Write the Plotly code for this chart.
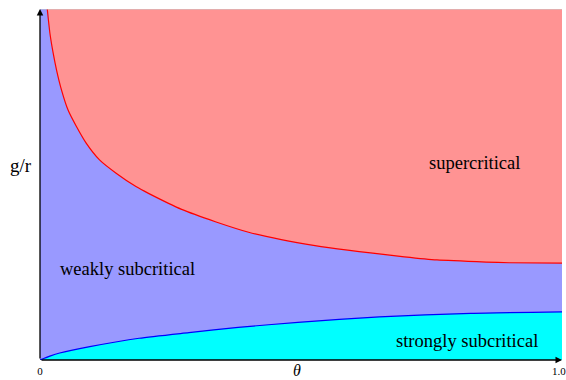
import plotly.graph_objects as go

# boundary between supercritical and weakly subcritical (red curve)
red_theta = [0.014, 0.0191, 0.0254, 0.0319, 0.0415, 0.0541, 0.0702, 0.0893, 0.1147, 0.1467,
             0.1849, 0.210, 0.273, 0.338, 0.402, 0.465, 0.530, 0.593, 0.637, 0.702,
             0.765, 0.860, 0.904, 1.006]
red_g = [1.0, 0.931, 0.874, 0.826, 0.769, 0.712, 0.665, 0.617, 0.570, 0.532,
         0.494, 0.474, 0.429, 0.394, 0.364, 0.343, 0.326, 0.313, 0.305, 0.294,
         0.285, 0.279, 0.277, 0.276]

# boundary between weakly and strongly subcritical (blue curve)
blue_theta = [0.0, 0.019, 0.038, 0.096, 0.191, 0.287, 0.382, 0.497, 0.654, 0.830, 1.006]
blue_g = [0.0, 0.011, 0.020, 0.038, 0.062, 0.078, 0.093, 0.107, 0.123, 0.133, 0.137]

x_max = 1.006
y_max = 1.0
top_theta = [0.0, x_max]
top_g = [y_max, y_max]

labels = ["supercritical", "weakly subcritical", "strongly subcritical"]
label_theta = [0.837, 0.168, 0.822]
label_g = [0.561, 0.259, 0.054]

tick_vals = [0, 1]
tick_text = ["0", "1.0"]

RED_FILL = "rgb(255,147,147)"
BLUE_FILL = "rgb(153,153,255)"
CYAN_FILL = "rgb(0,255,255)"
FONT = "Liberation Serif, Times New Roman, serif"

fig = go.Figure()
# whole area red
fig.add_trace(go.Scatter(x=top_theta, y=top_g, fill="tozeroy", fillcolor=RED_FILL,
                         mode="none", hoverinfo="skip"))
# below red curve: blue
fig.add_trace(go.Scatter(x=[0.0] + red_theta, y=[y_max] + red_g, fill="tozeroy",
                         fillcolor=BLUE_FILL, mode="none", hoverinfo="skip",
                         line=dict(shape="spline", smoothing=0.6)))
# below blue curve: cyan
fig.add_trace(go.Scatter(x=blue_theta, y=blue_g, fill="tozeroy", fillcolor=CYAN_FILL,
                         mode="none", hoverinfo="skip",
                         line=dict(shape="spline", smoothing=0.6)))
# boundary lines
fig.add_trace(go.Scatter(x=red_theta, y=red_g, mode="lines",
                         line=dict(color="red", width=1.2, shape="spline", smoothing=0.6),
                         hoverinfo="skip"))
fig.add_trace(go.Scatter(x=blue_theta, y=blue_g, mode="lines",
                         line=dict(color="blue", width=1.2, shape="spline", smoothing=0.6),
                         hoverinfo="skip"))

annotations = []
for t, xx, yy in zip(labels, label_theta, label_g):
    annotations.append(dict(x=xx, y=yy, xref="x", yref="y", text=t, showarrow=False,
                            xanchor="center", yanchor="middle",
                            font=dict(family=FONT, size=18.5, color="black")))
# axis arrows
annotations.append(dict(x=x_max, y=0, ax=0, ay=0, xref="x", yref="y", axref="x", ayref="y",
                        text="", showarrow=True, arrowhead=2, arrowsize=1, arrowwidth=1.3,
                        arrowcolor="black"))
annotations.append(dict(x=0, y=y_max, ax=0, ay=0, xref="x", yref="y", axref="x", ayref="y",
                        text="", showarrow=True, arrowhead=2, arrowsize=1, arrowwidth=1.3,
                        arrowcolor="black"))
# axis titles
annotations.append(dict(x=-19 / 526, y=0.553, xref="paper", yref="y", text="g/r",
                        xanchor="center", yanchor="middle",
                        showarrow=False, font=dict(family=FONT, size=19, color="black")))
annotations.append(dict(x=0.495, y=-19.5 / 351, xref="x", yref="paper", text="<i>θ</i>",
                        xanchor="center", yanchor="bottom", borderpad=0,
                        showarrow=False, font=dict(family=FONT, size=16, color="black")))

fig.update_layout(
    width=566, height=380,
    margin=dict(l=40, r=0, t=9, b=20),
    paper_bgcolor="white", plot_bgcolor="white",
    showlegend=False,
    annotations=annotations,
    shapes=[dict(type="line", xref="x", yref="y", x0=0, x1=x_max, y0=y_max, y1=y_max,
                 line=dict(color="rgb(200,200,200)", width=1))],
    xaxis=dict(range=[0, x_max], showgrid=False, zeroline=False, showline=False,
               tickvals=tick_vals, ticktext=tick_text, ticks="",
               ticklabeloverflow="allow", ticklabelstandoff=3,
               tickfont=dict(family=FONT, size=11, color="black"), fixedrange=True),
    yaxis=dict(range=[0, y_max], showgrid=False, zeroline=False, showline=False,
               showticklabels=False, ticks="", fixedrange=True),
)

fig.write_html("out.html")
